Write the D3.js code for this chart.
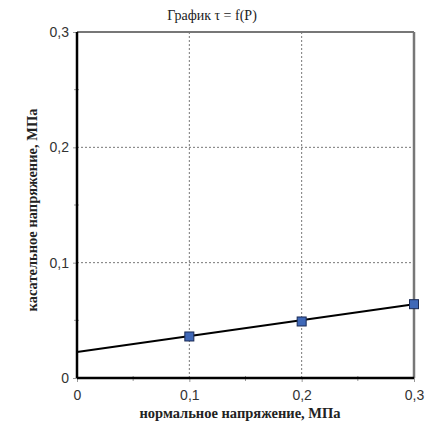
<!DOCTYPE html>
<html><head><meta charset="utf-8">
<script src="https://cdn.jsdelivr.net/npm/d3@7"></script>
<style>body{margin:0;background:#fff}svg{display:block}</style>
</head><body>
<svg id="c" width="427" height="430"></svg>
<script>
const pressure = [0.1, 0.2, 0.3];
const shear = [0.036, 0.049, 0.064];
const trendP = [0, 0.3];
const trendT = [0.0225, 0.064];
const xTicks = [0, 0.1, 0.2, 0.3];
const yTicks = [0, 0.1, 0.2, 0.3];
const minorTicks = [0.05, 0.15, 0.25];
const fmt = d => d === 0 ? "0" : d.toFixed(1).replace(".", ",");

const svg = d3.select("#c");
const L = 77, R = 414, T = 32, B = 378;
const x = d3.scaleLinear().domain([0, 0.3]).range([L, R]);
const y = d3.scaleLinear().domain([0, 0.3]).range([B, T]);

// grid
svg.append("g").selectAll("line").data(xTicks.filter(d => d > 0 && d < 0.3)).join("line")
  .attr("x1", d => x(d)).attr("x2", d => x(d)).attr("y1", T).attr("y2", B)
  .attr("stroke", "#777").attr("stroke-width", 1).attr("stroke-dasharray", "2,2");
svg.append("g").selectAll("line").data(yTicks.filter(d => d > 0 && d < 0.3)).join("line")
  .attr("y1", d => y(d)).attr("y2", d => y(d)).attr("x1", L).attr("x2", R)
  .attr("stroke", "#777").attr("stroke-width", 1).attr("stroke-dasharray", "2,2");

// frame top/right
svg.append("line").attr("x1", L).attr("x2", R).attr("y1", T).attr("y2", T).attr("stroke", "#777").attr("stroke-width", 2);
svg.append("line").attr("x1", R).attr("x2", R).attr("y1", T).attr("y2", B).attr("stroke", "#777").attr("stroke-width", 2.5);

// axes
const xAxis = d3.axisBottom(x).tickValues(xTicks).tickFormat(fmt).tickSize(4).tickPadding(8);
const yAxis = d3.axisLeft(y).tickValues(yTicks).tickFormat(fmt).tickSize(4).tickPadding(4);
const gx = svg.append("g").attr("transform", `translate(0,${B})`).call(xAxis);
const gy = svg.append("g").attr("transform", `translate(${L},0)`).call(yAxis);
[gx, gy].forEach(g => {
  g.select(".domain").remove();
  g.selectAll("line").attr("stroke", "#999");
  g.selectAll("text").attr("font-family", "Liberation Sans, Arial, sans-serif").attr("font-size", 14).attr("fill", "#333");
});
// minor ticks
svg.append("g").selectAll("line").data(minorTicks).join("line")
  .attr("x1", d => x(d)).attr("x2", d => x(d)).attr("y1", B - 2).attr("y2", B + 3).attr("stroke", "#999");
svg.append("g").selectAll("line").data(minorTicks).join("line")
  .attr("y1", d => y(d)).attr("y2", d => y(d)).attr("x1", L - 3).attr("x2", L + 2).attr("stroke", "#999");

svg.append("line").attr("x1", L).attr("x2", R).attr("y1", B).attr("y2", B).attr("stroke", "#000").attr("stroke-width", 2.5);
svg.append("line").attr("x1", L).attr("x2", L).attr("y1", T).attr("y2", B).attr("stroke", "#000").attr("stroke-width", 2.5);

// trend line
svg.append("path").datum(trendP.map((p, i) => [p, trendT[i]]))
  .attr("d", d3.line().x(d => x(d[0])).y(d => y(d[1])))
  .attr("stroke", "#000").attr("stroke-width", 2).attr("fill", "none");

// markers
svg.append("g").selectAll("rect").data(pressure.map((p, i) => [p, shear[i]])).join("rect")
  .attr("x", d => x(d[0]) - 4.5).attr("y", d => y(d[1]) - 4.5).attr("width", 9).attr("height", 9)
  .attr("fill", "#3f68b8").attr("stroke", "#1a2a55").attr("stroke-width", 1);

// titles
svg.append("text").attr("x", 212).attr("y", 20).attr("text-anchor", "middle")
  .attr("font-family", "Liberation Serif, Times New Roman, serif").attr("font-size", 14).attr("fill", "#222")
  .text("График τ = f(P)");
svg.append("text").attr("x", 240).attr("y", 418).attr("text-anchor", "middle")
  .attr("font-family", "Liberation Serif, Times New Roman, serif").attr("font-size", 14.5).attr("font-weight", "bold").attr("fill", "#222")
  .text("нормальное напряжение, МПа");
svg.append("text").attr("transform", "translate(37,210) rotate(-90)").attr("text-anchor", "middle")
  .attr("font-family", "Liberation Serif, Times New Roman, serif").attr("font-size", 14.5).attr("font-weight", "bold").attr("fill", "#222")
  .text("касательное напряжение, МПа");
</script>
</body></html>
